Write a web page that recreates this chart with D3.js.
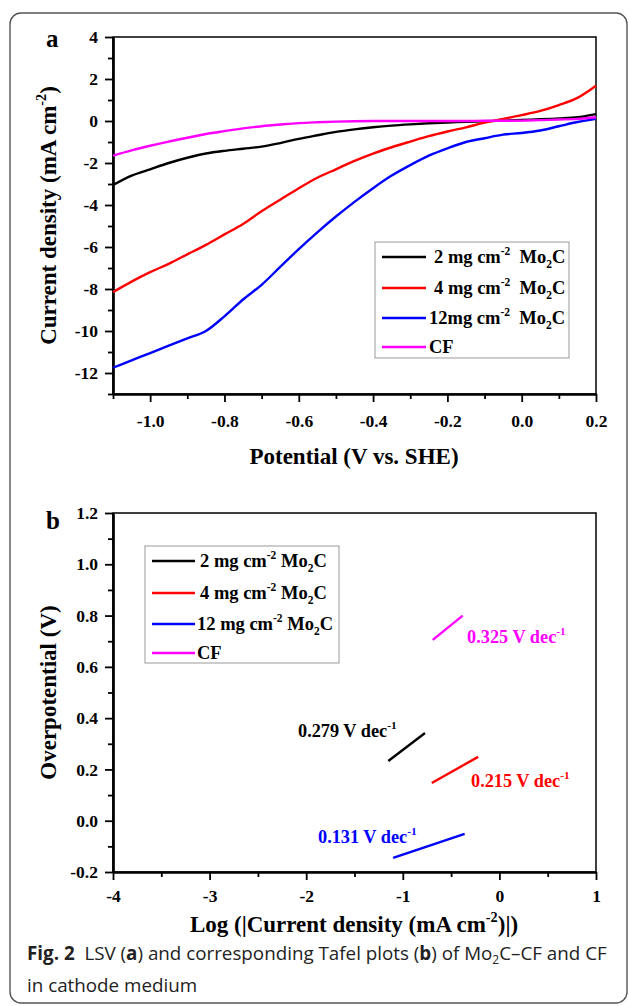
<!DOCTYPE html>
<html lang="en">
<head>
<meta charset="UTF-8">
<title>Mo2C LSV and Tafel</title>
<script src="https://d3js.org/d3.v7.min.js"></script>
<style>
    body { margin: 0; background: #fff; }
    svg { display: block; }
    .chart text { font-family: "Liberation Serif", "Times New Roman", serif; font-weight: bold; fill: #000; }
    .chart text.caption { font-family: "Open Sans", "Noto Sans", sans-serif; font-weight: normal; fill: #222; }
    text { white-space: pre; }
</style>
</head>
<body>
<div id="container"></div>
<script>
// ---- data: panel a (LSV) ----
const potential = [-1.1, -1.05, -1.0, -0.95, -0.9, -0.85, -0.8, -0.75, -0.7, -0.65, -0.6, -0.55, -0.5, -0.45,
                   -0.4, -0.35, -0.3, -0.25, -0.2, -0.15, -0.1, -0.05, 0.0, 0.05, 0.1, 0.15, 0.2];
const j2mg  = [-3.05, -2.6, -2.3, -2.0, -1.75, -1.55, -1.42, -1.32, -1.22, -1.05, -0.85, -0.68, -0.52, -0.4,
               -0.3, -0.22, -0.16, -0.11, -0.07, -0.04, -0.01, 0.02, 0.05, 0.08, 0.12, 0.18, 0.33];
const j4mg  = [-8.15, -7.65, -7.2, -6.8, -6.35, -5.9, -5.4, -4.9, -4.3, -3.75, -3.2, -2.7, -2.3, -1.9,
               -1.55, -1.25, -0.98, -0.72, -0.5, -0.3, -0.08, 0.1, 0.28, 0.48, 0.76, 1.1, 1.68];
const j12mg = [-11.75, -11.4, -11.05, -10.7, -10.35, -10.0, -9.3, -8.5, -7.8, -6.95, -6.1, -5.3, -4.55, -3.85,
               -3.2, -2.6, -2.1, -1.65, -1.3, -1.0, -0.82, -0.65, -0.57, -0.45, -0.25, -0.05, 0.1];
const jCF   = [-1.65, -1.4, -1.18, -0.98, -0.8, -0.62, -0.48, -0.35, -0.25, -0.17, -0.1, -0.06, -0.03, -0.01,
               0.0, 0.0, 0.0, 0.0, 0.0, 0.0, 0.01, 0.01, 0.02, 0.04, 0.07, 0.1, 0.18];

// ---- data: panel b (Tafel fits) ----
const logJ2mg  = [-1.15, -0.77];  const eta2mg  = [0.233, 0.342];
const logJ4mg  = [-0.70, -0.22];  const eta4mg  = [0.147, 0.249];
const logJ12mg = [-1.10, -0.36];  const eta12mg = [-0.145, -0.051];
const logJCF   = [-0.69, -0.38];  const etaCF   = [0.705, 0.800];
const slopes   = ['0.279', '0.215', '0.131', '0.325'];

// ---- ticks ----
const xTicksA = [-1.0, -0.8, -0.6, -0.4, -0.2, 0.0, 0.2];
const xMinorA = [-1.1, -0.9, -0.7, -0.5, -0.3, -0.1, 0.1];
const yTicksA = [-12, -10, -8, -6, -4, -2, 0, 2, 4];
const yMinorA = [-13, -11, -9, -7, -5, -3, -1, 1, 3];
const xTicksB = [-4, -3, -2, -1, 0, 1];
const xMinorB = [-3.5, -2.5, -1.5, -0.5, 0.5];
const yTicksB = [-0.2, 0.0, 0.2, 0.4, 0.6, 0.8, 1.0, 1.2];
const yMinorB = [-0.1, 0.1, 0.3, 0.5, 0.7, 0.9, 1.1];

const colors = ['#000000', '#ff0000', '#0000ff', '#ff00ff'];

const W = 629, H = 1006;
const svg = d3.select('#container').append('svg')
    .attr('width', W).attr('height', H)
    .attr('class', 'chart');

// outer frame
svg.append('rect')
    .attr('x', 10).attr('y', 13).attr('width', 617).attr('height', 990)
    .attr('rx', 11).attr('ry', 11)
    .attr('fill', 'none').attr('stroke', '#555').attr('stroke-width', 1.4);

// helper for super/subscripts
function rich(sel, parts, size) {
    let shift = 0;
    parts.forEach(p => {
        const target = p[1] === 'sup' ? -0.42 * size : p[1] === 'sub' ? 0.28 * size : 0;
        const t = sel.append('tspan').text(p[0]).attr('dy', target - shift);
        if (p[1]) t.attr('font-size', size * 0.62);
        shift = target;
    });
}

function drawAxes(g, x, y, opt) {
    const left = x.range()[0], right = x.range()[1];
    const top = y.range()[1], bottom = y.range()[0];

    g.append('rect')
        .attr('x', left).attr('y', top)
        .attr('width', right - left).attr('height', bottom - top)
        .attr('fill', '#fff').attr('stroke', '#000').attr('stroke-width', 1.5);

    const xMinor = g.append('g').attr('transform', `translate(0,${bottom})`)
        .call(d3.axisBottom(x).tickValues(opt.xMinor).tickSize(5).tickFormat('').tickSizeOuter(0));
    const xMajor = g.append('g').attr('transform', `translate(0,${bottom})`)
        .call(d3.axisBottom(x).tickValues(opt.xTicks).tickSize(8).tickPadding(opt.xPad)
            .tickFormat(opt.xFmt).tickSizeOuter(0));
    const yMinor = g.append('g').attr('transform', `translate(${left},0)`)
        .call(d3.axisLeft(y).tickValues(opt.yMinor).tickSize(5).tickFormat('').tickSizeOuter(0));
    const yMajor = g.append('g').attr('transform', `translate(${left},0)`)
        .call(d3.axisLeft(y).tickValues(opt.yTicks).tickSize(8).tickPadding(7)
            .tickFormat(opt.yFmt).tickSizeOuter(0));

    [xMinor, xMajor, yMinor, yMajor].forEach(a => {
        a.select('.domain').attr('stroke-width', 2.2);
        a.selectAll('.tick line').attr('stroke-width', 1.8);
        a.selectAll('.tick text')
            .attr('font-size', 17.5)
            .attr('font-family', '"Liberation Serif", serif')
            .attr('font-weight', 'bold');
    });
}

function minus(s) { return s.replace('\u2212', '-'); }

// ================= panel a =================
const xA = d3.scaleLinear().domain([-1.1, 0.2]).range([113, 596]);
const yA = d3.scaleLinear().domain([-13, 4]).range([394, 37]);
const gA = svg.append('g');

drawAxes(gA, xA, yA, {
    xTicks: xTicksA, xMinor: xMinorA, yTicks: yTicksA, yMinor: yMinorA, xPad: 13,
    xFmt: d => minus(d3.format('.1f')(d)),
    yFmt: d => minus(d3.format('d')(d))
});

const lsv = [j2mg, j4mg, j12mg, jCF];
const lineA = d3.line()
    .x(d => xA(d[0]))
    .y(d => yA(d[1]))
    .curve(d3.curveMonotoneX);

lsv.forEach((vals, i) => {
    gA.append('path')
        .datum(potential.map((p, k) => [p, vals[k]]))
        .attr('d', lineA)
        .attr('fill', 'none')
        .attr('stroke', colors[i])
        .attr('stroke-width', 2.4);
});

// legend a
const legA = gA.append('g');
legA.append('rect').attr('x', 375).attr('y', 242).attr('width', 194).attr('height', 116)
    .attr('fill', '#fff').attr('stroke', '#999').attr('stroke-width', 1);
const legLabelsA = [
    [['2 mg cm'], ['-2', 'sup'], ['  Mo'], ['2', 'sub'], ['C']],
    [['4 mg cm'], ['-2', 'sup'], ['  Mo'], ['2', 'sub'], ['C']],
    [['12mg cm'], ['-2', 'sup'], ['  Mo'], ['2', 'sub'], ['C']],
    [['CF']]
];
const rowYA = [257, 288, 318, 347];
legLabelsA.forEach((parts, i) => {
    legA.append('line').attr('x1', 382).attr('x2', 426).attr('y1', rowYA[i]).attr('y2', rowYA[i])
        .attr('stroke', colors[i]).attr('stroke-width', 2.4);
    const t = legA.append('text').attr('x', i < 2 ? 434 : 429).attr('y', rowYA[i] + 6).attr('font-size', 18.5);
    rich(t, parts, 18.5);
});

svg.append('text').attr('x', 46).attr('y', 47).attr('font-size', 25).text('a');

svg.append('text')
    .attr('x', 354).attr('y', 464)
    .attr('text-anchor', 'middle').attr('font-size', 23)
    .text('Potential (V vs. SHE)');

const yTitleA = svg.append('text')
    .attr('transform', `translate(56,${(37 + 394) / 2}) rotate(-90)`)
    .attr('text-anchor', 'middle').attr('font-size', 23);
rich(yTitleA, [['Current density (mA cm'], ['-2', 'sup'], [')']], 23);

// ================= panel b =================
const xB = d3.scaleLinear().domain([-4, 1]).range([113, 596]);
const yB = d3.scaleLinear().domain([-0.2, 1.2]).range([872, 513]);
const gB = svg.append('g');

drawAxes(gB, xB, yB, {
    xTicks: xTicksB, xMinor: xMinorB, yTicks: yTicksB, yMinor: yMinorB, xPad: 10,
    xFmt: d => minus(d3.format('d')(d)),
    yFmt: d => minus(d3.format('.1f')(d))
});

const tafel = [[logJ2mg, eta2mg], [logJ4mg, eta4mg], [logJ12mg, eta12mg], [logJCF, etaCF]];
const lineB = d3.line().x(d => xB(d[0])).y(d => yB(d[1]));
tafel.forEach((s, i) => {
    gB.append('path')
        .datum(s[0].map((v, k) => [v, s[1][k]]))
        .attr('d', lineB)
        .attr('fill', 'none')
        .attr('stroke', colors[i])
        .attr('stroke-width', 2.4);
});

// slope labels (placed in data coordinates)
const slopeLabelAt = [[-2.085, 0.327], [-0.294, 0.132], [-1.878, -0.087], [-0.335, 0.693]];
slopes.forEach((s, i) => {
    const t = gB.append('text')
        .attr('x', xB(slopeLabelAt[i][0])).attr('y', yB(slopeLabelAt[i][1]))
        .attr('font-size', 18.3).style('fill', colors[i]);
    rich(t, [[s + ' V dec'], ['-1', 'sup']], 18.3);
});

// legend b
const legB = gB.append('g');
legB.append('rect').attr('x', 145).attr('y', 546).attr('width', 194).attr('height', 117)
    .attr('fill', '#fff').attr('stroke', '#999').attr('stroke-width', 1);
const legLabelsB = [
    [['2 mg cm'], ['-2', 'sup'], [' Mo'], ['2', 'sub'], ['C']],
    [['4 mg cm'], ['-2', 'sup'], [' Mo'], ['2', 'sub'], ['C']],
    [['12 mg cm'], ['-2', 'sup'], [' Mo'], ['2', 'sub'], ['C']],
    [['CF']]
];
const rowYB = [561, 593, 624, 653];
legLabelsB.forEach((parts, i) => {
    legB.append('line').attr('x1', 152).attr('x2', 195).attr('y1', rowYB[i]).attr('y2', rowYB[i])
        .attr('stroke', colors[i]).attr('stroke-width', 2.4);
    const t = legB.append('text').attr('x', i < 2 ? 200 : 197).attr('y', rowYB[i] + 6).attr('font-size', 18.5);
    rich(t, parts, 18.5);
});

svg.append('text').attr('x', 46).attr('y', 529).attr('font-size', 25).text('b');

const xTitleB = svg.append('text')
    .attr('x', 354).attr('y', 932)
    .attr('text-anchor', 'middle').attr('font-size', 23);
rich(xTitleB, [['Log (|Current density (mA cm'], ['-2', 'sup'], [')|)']], 23);

svg.append('text')
    .attr('transform', `translate(56,${(513 + 872) / 2}) rotate(-90)`)
    .attr('text-anchor', 'middle').attr('font-size', 23)
    .text('Overpotential (V)');

// ================= caption =================
const cap1 = svg.append('text').attr('class', 'caption').attr('x', 27).attr('y', 960).attr('font-size', 18.8);
cap1.append('tspan').text('Fig. 2').style('font-weight', 'bold');
cap1.append('tspan').text('  LSV (');
cap1.append('tspan').text('a').style('font-weight', 'bold');
cap1.append('tspan').text(') and corresponding Tafel plots (');
cap1.append('tspan').text('b').style('font-weight', 'bold');
cap1.append('tspan').text(') of Mo');
cap1.append('tspan').text('2').attr('font-size', 12).attr('dy', 4);
cap1.append('tspan').text('C\u2013CF and CF').attr('dy', -4);

svg.append('text').attr('class', 'caption').attr('x', 27).attr('y', 992).attr('font-size', 18.8)
    .text('in cathode medium');
</script>
</body>
</html>
